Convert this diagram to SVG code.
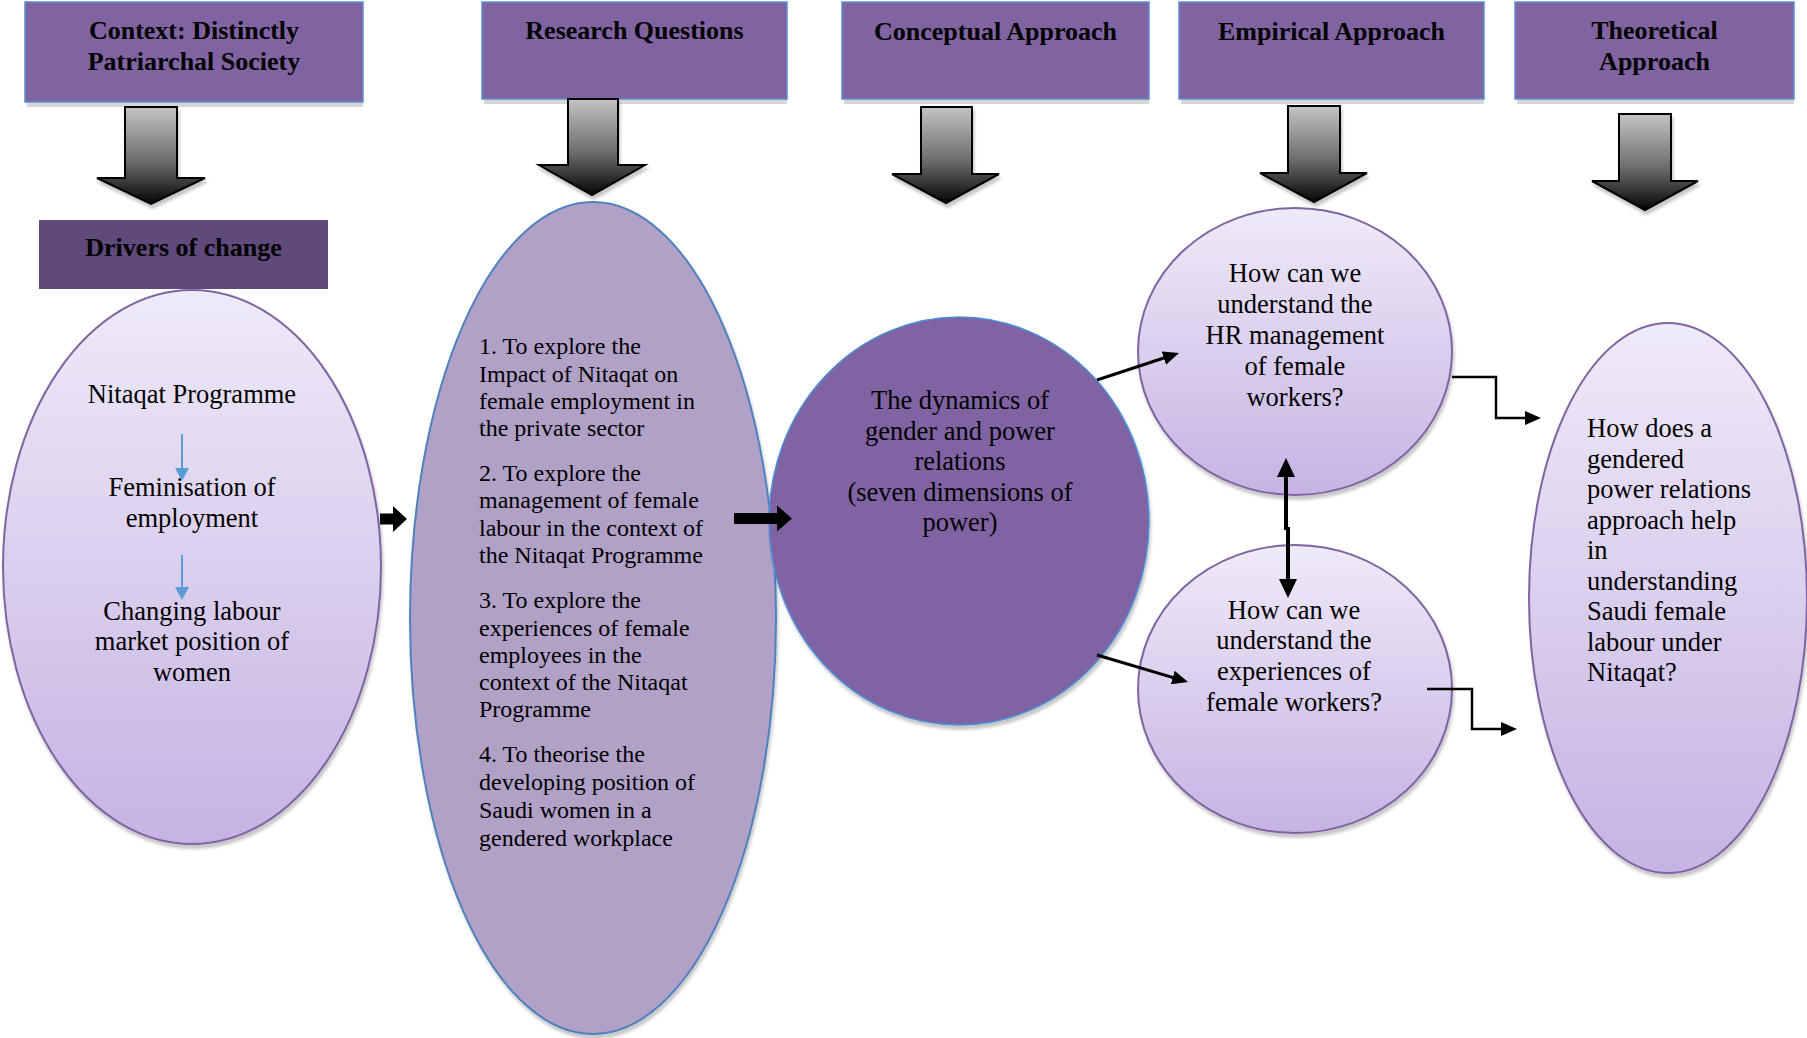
<svg xmlns="http://www.w3.org/2000/svg" width="1807" height="1038" viewBox="0 0 1807 1038">
<style>
.hdbox{fill:#8064A2;stroke:#5B8FD0;stroke-width:1.5}
.hdsh{fill:#D6D6D6}
.hd{font-family:"Liberation Serif",serif;font-weight:bold;font-size:26px;text-anchor:middle;fill:#000}
.tx{font-family:"Liberation Serif",serif;font-size:26.5px;fill:#000}
.mid{text-anchor:middle}
.rq{font-family:"Liberation Serif",serif;font-size:24px;fill:#000}
.light{fill:url(#gLight);stroke:#8064A2;stroke-width:2;filter:url(#sh)}
.blk{fill:url(#gArrow);stroke:#000;stroke-width:2;filter:url(#sh)}
.thick{fill:#000}
.ln{fill:none;stroke:#000;stroke-width:3}
.el{fill:none;stroke:#000;stroke-width:2.5}
.dbl{fill:none;stroke:#000;stroke-width:4}
.blue{fill:none;stroke:#5B9BD5;stroke-width:2}
</style>
<defs>
<linearGradient id="gLight" x1="0" y1="0" x2="0" y2="1">
<stop offset="0" stop-color="#EFEAF8"/>
<stop offset="1" stop-color="#C6B3E3"/>
</linearGradient>
<linearGradient id="gArrow" x1="0" y1="0" x2="0" y2="1">
<stop offset="0" stop-color="#C4C4C4"/>
<stop offset="0.55" stop-color="#6E6E6E"/>
<stop offset="1" stop-color="#050505"/>
</linearGradient>
<filter id="sh" x="-10%" y="-10%" width="120%" height="125%">
<feDropShadow dx="1.5" dy="4" stdDeviation="1.5" flood-color="#000" flood-opacity="0.22"/>
</filter>
<marker id="ah" markerUnits="userSpaceOnUse" viewBox="0 0 16 14" markerWidth="16" markerHeight="14" refX="12" refY="7" orient="auto">
<path d="M0 0 L16 7 L0 14 Z" fill="#000"/>
</marker>
<marker id="ahb" markerUnits="userSpaceOnUse" viewBox="0 0 19 18" markerWidth="19" markerHeight="18" refX="15" refY="9" orient="auto">
<path d="M0 0 L19 9 L0 18 Z" fill="#000"/>
</marker>
<marker id="ahc" markerUnits="userSpaceOnUse" viewBox="0 0 13 14" markerWidth="13" markerHeight="14" refX="10" refY="7" orient="auto">
<path d="M0 0 L13 7 L0 14 Z" fill="#5B9BD5"/>
</marker>
</defs>

<g id="hdr-context">
<rect class="hdsh" x="27" y="102" width="336" height="5"/>
<rect class="hdbox" x="25" y="2" width="338" height="100"/>
<text class="hd" x="194" y="38.5">Context: Distinctly</text>
<text class="hd" x="194" y="70">Patriarchal Society</text>
</g>
<g id="hdr-research">
<rect class="hdsh" x="484" y="99" width="303" height="5"/>
<rect class="hdbox" x="482" y="2" width="305" height="97"/>
<text class="hd" x="634.5" y="38.5">Research Questions</text>
</g>
<g id="hdr-conceptual">
<rect class="hdsh" x="844" y="99" width="305" height="5"/>
<rect class="hdbox" x="842" y="2" width="307" height="97"/>
<text class="hd" x="995.5" y="40">Conceptual Approach</text>
</g>
<g id="hdr-empirical">
<rect class="hdsh" x="1181" y="99" width="303" height="5"/>
<rect class="hdbox" x="1179" y="2" width="305" height="97"/>
<text class="hd" x="1331.5" y="40">Empirical Approach</text>
</g>
<g id="hdr-theoretical">
<rect class="hdsh" x="1517" y="99" width="277" height="5"/>
<rect class="hdbox" x="1515" y="2" width="279" height="97"/>
<text class="hd" x="1654.5" y="38.5">Theoretical</text>
<text class="hd" x="1654.5" y="70">Approach</text>
</g>

<g id="block-arrows">
<path class="blk" d="M125 107 H177 V178 H205 L151 204 L97 178 H125 Z"/>
<path class="blk" d="M568 99 H618 V165 H645 L592 195 L539 165 H568 Z"/>
<path class="blk" d="M921 107 H972 V174 H999 L946 203 L892 174 H921 Z"/>
<path class="blk" d="M1288 106 H1340 V173 H1367 L1314 202 L1260 173 H1288 Z"/>
<path class="blk" d="M1619 114 H1671 V181 H1698 L1645 210 L1592 181 H1619 Z"/>
</g>

<g id="drivers">
<rect x="39" y="220" width="289" height="69" fill="#604A7B"/>
<text class="hd" x="183.5" y="256">Drivers of change</text>
</g>

<g id="left-ellipse">
<ellipse class="light" cx="192" cy="567" rx="189" ry="277"/>
<text class="tx mid" x="192" y="403">Nitaqat Programme</text>
<text class="tx mid" x="192" y="496">Feminisation of</text>
<text class="tx mid" x="192" y="527">employment</text>
<text class="tx mid" x="192" y="620">Changing labour</text>
<text class="tx mid" x="192" y="650">market position of</text>
<text class="tx mid" x="192" y="681">women</text>
</g>

<g id="research-ellipse">
<ellipse cx="593" cy="618" rx="183" ry="416" fill="#B2A1C7" stroke="#4F81BD" stroke-width="2" filter="url(#sh)"/>
<text class="rq" x="479" y="354">1. To explore the</text>
<text class="rq" x="479" y="382">Impact of Nitaqat on</text>
<text class="rq" x="479" y="409">female employment in</text>
<text class="rq" x="479" y="436">the private sector</text>
<text class="rq" x="479" y="481">2. To explore the</text>
<text class="rq" x="479" y="508">management of female</text>
<text class="rq" x="479" y="536">labour in the context of</text>
<text class="rq" x="479" y="563">the Nitaqat Programme</text>
<text class="rq" x="479" y="608">3. To explore the</text>
<text class="rq" x="479" y="636">experiences of female</text>
<text class="rq" x="479" y="663">employees in the</text>
<text class="rq" x="479" y="690">context of the Nitaqat</text>
<text class="rq" x="479" y="717">Programme</text>
<text class="rq" x="479" y="762">4. To theorise the</text>
<text class="rq" x="479" y="790">developing position of</text>
<text class="rq" x="479" y="818">Saudi women in a</text>
<text class="rq" x="479" y="846">gendered workplace</text>
</g>

<g id="conceptual-circle">
<ellipse cx="959" cy="521" rx="190" ry="204" fill="#8064A2" stroke="#4A8FD8" stroke-width="1.5" filter="url(#sh)"/>
<text class="tx mid" x="960" y="409">The dynamics of</text>
<text class="tx mid" x="960" y="439.5">gender and power</text>
<text class="tx mid" x="960" y="470">relations</text>
<text class="tx mid" x="960" y="500.5">(seven dimensions of</text>
<text class="tx mid" x="960" y="531">power)</text>
</g>

<g id="empirical-hr">
<ellipse class="light" cx="1295" cy="351.5" rx="157" ry="143.5"/>
<text class="tx mid" x="1295" y="282">How can we</text>
<text class="tx mid" x="1295" y="313">understand the</text>
<text class="tx mid" x="1295" y="344">HR management</text>
<text class="tx mid" x="1295" y="375">of female</text>
<text class="tx mid" x="1295" y="406">workers?</text>
</g>

<g id="empirical-exp">
<ellipse class="light" cx="1295" cy="689" rx="157" ry="144"/>
<text class="tx mid" x="1294" y="619">How can we</text>
<text class="tx mid" x="1294" y="649">understand the</text>
<text class="tx mid" x="1294" y="680">experiences of</text>
<text class="tx mid" x="1294" y="711">female workers?</text>
</g>

<g id="theoretical-ellipse">
<ellipse class="light" cx="1668" cy="598" rx="139" ry="275"/>
<text class="tx" x="1587" y="437">How does a</text>
<text class="tx" x="1587" y="467.5">gendered</text>
<text class="tx" x="1587" y="498">power relations</text>
<text class="tx" x="1587" y="528.5">approach help</text>
<text class="tx" x="1587" y="559">in</text>
<text class="tx" x="1587" y="589.5">understanding</text>
<text class="tx" x="1587" y="620">Saudi female</text>
<text class="tx" x="1587" y="650.5">labour under</text>
<text class="tx" x="1587" y="681">Nitaqat?</text>
</g>

<g id="connectors">
<path class="blue" d="M182 434 V478" marker-end="url(#ahc)"/>
<path class="blue" d="M182 555 V597" marker-end="url(#ahc)"/>
<path class="thick" d="M380 513.5 H393 V506 L407 519 L393 532 V524.5 H380 Z"/>
<path class="thick" d="M734 513 H777 V505.5 L792 518.5 L777 531.5 V524 H734 Z"/>
<path class="ln" d="M1097 380 L1175.2 354.3" marker-end="url(#ah)"/>
<path class="ln" d="M1097 655 L1184.2 680.9" marker-end="url(#ah)"/>
<path class="dbl" d="M1286 530 V462" marker-end="url(#ahb)"/>
<path class="dbl" d="M1288 527 V594" marker-end="url(#ahb)"/>
<path class="el" d="M1452 377 H1496 V418 H1537" marker-end="url(#ah)"/>
<path class="el" d="M1427 689 H1472 V729 H1513" marker-end="url(#ah)"/>
</g>
</svg>
